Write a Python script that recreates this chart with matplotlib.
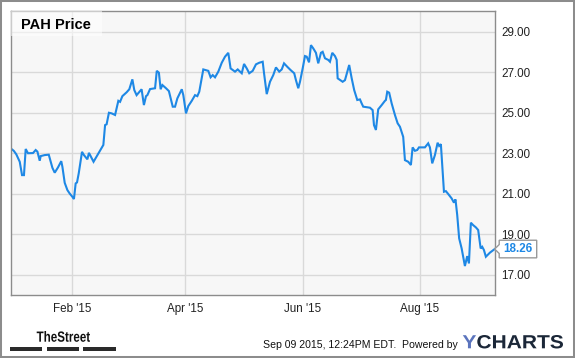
import numpy as np
import pandas as pd
import matplotlib
matplotlib.use("Agg")
import matplotlib.pyplot as plt
import matplotlib.dates as mdates
import matplotlib.transforms as mtransforms
from matplotlib.patches import Rectangle, Polygon, PathPatch
from matplotlib.textpath import TextPath
from matplotlib.font_manager import FontProperties

# ---- data (days after 2015-01-01, price) ----
days = [-0.9, 0.7, 2.0, 3.8, 5.0, 6.0, 6.9, 8.1, 10.7, 12.1, 13.0, 14.2, 14.7, 16.8, 18.9,
        20.8, 22.0, 23.7, 25.4, 26.0, 27.2, 28.6, 29.8, 31.2, 32.0, 32.9, 33.6, 34.5, 36.2,
        37.2, 39.0, 39.8, 41.0, 42.2, 47.3, 48.2, 49.0, 50.2, 51.6, 53.4, 55.1, 56.0, 57.2,
        59.4, 60.8, 62.4, 63.4, 64.6, 67.2, 68.4, 69.5, 70.2, 71.6, 74.2, 75.1, 76.2, 77.1,
        78.0, 79.9, 81.4, 83.4, 84.6, 85.8, 88.1, 88.9, 90.3, 91.5, 93.3, 95.0, 96.2, 97.2,
        99.3, 101.9, 103.1, 104.2, 105.4, 107.1, 108.9, 110.6, 112.3, 113.5, 115.8, 117.2,
        118.4, 119.3, 120.5, 121.9, 123.2, 125.0, 126.7, 128.4, 130.2, 130.9, 132.3, 134.0,
        135.7, 137.1, 138.8, 140.1, 141.3, 143.0, 144.7, 146.6, 147.5, 148.7, 149.6, 151.0,
        152.2, 153.1, 154.3, 155.3, 156.5, 157.9, 159.1, 160.5, 161.4, 162.6, 164.3, 165.2,
        166.4, 167.8, 168.7, 169.2, 171.8, 173.0, 175.2, 176.5, 177.8, 179.4, 180.8, 181.7,
        182.5, 186.0, 187.4, 188.1, 189.1, 190.3, 192.1, 193.8, 194.3, 195.0, 196.0, 197.3,
        199.0, 200.4, 201.6, 203.3, 204.2, 205.9, 207.3, 208.2, 209.4, 210.6, 211.5, 214.6,
        216.3, 217.2, 218.4, 219.8, 221.2, 222.0, 222.9, 224.5, 225.5, 226.7, 228.5, 229.7,
        230.5, 231.4, 232.4, 233.7, 234.5, 235.4, 236.6, 237.5, 238.5, 239.7, 241.1, 242.3,
        243.6, 244.4, 245.3, 246.3, 248.4, 250.9]
prices = [23.23, 23.11, 22.94, 22.57, 21.91, 21.91, 23.20, 22.99, 23.00, 23.15, 23.07, 22.62,
          22.85, 22.90, 22.92, 22.27, 22.03, 22.29, 22.60, 22.32, 21.53, 21.17, 21.00, 20.84,
          20.73, 21.50, 21.55, 22.00, 23.06, 22.90, 22.69, 23.01, 22.79, 22.57, 23.40, 24.38,
          24.42, 24.99, 24.96, 24.88, 25.58, 25.53, 25.81, 26.00, 26.15, 26.64, 26.11, 25.86,
          26.15, 25.37, 25.81, 25.86, 26.16, 26.20, 27.06, 26.97, 26.15, 26.36, 26.20, 26.06,
          25.29, 25.29, 25.70, 26.15, 25.86, 24.96, 25.32, 25.58, 25.86, 25.81, 26.03, 27.13,
          27.06, 26.74, 26.85, 26.74, 27.02, 27.46, 27.76, 27.95, 27.18, 27.02, 27.13, 27.02,
          26.94, 27.40, 27.18, 26.94, 27.06, 27.38, 27.46, 27.51, 26.94, 25.91, 26.52, 26.85,
          27.23, 27.02, 27.13, 27.43, 27.26, 27.10, 26.94, 26.60, 26.20, 26.52, 27.18, 27.79,
          27.76, 27.48, 28.33, 28.17, 27.95, 27.43, 27.95, 28.00, 27.68, 27.60, 27.51, 27.95,
          27.79, 27.60, 26.69, 26.52, 26.60, 27.35, 26.69, 26.11, 25.62, 25.65, 25.45, 25.29,
          25.24, 25.12, 24.38, 24.14, 25.16, 25.37, 25.58, 25.62, 26.03, 25.98, 25.45, 24.88,
          24.47, 24.30, 23.80, 22.65, 22.57, 22.41, 23.28, 23.11, 23.15, 23.28, 23.28, 23.48,
          23.28, 22.49, 22.90, 23.51, 23.35, 23.44, 21.09, 21.12, 20.98, 20.76, 20.55, 20.71,
          19.94, 18.79, 18.29, 17.88, 17.42, 17.91, 17.55, 19.56, 19.44, 19.33, 19.20, 18.29,
          18.37, 18.21, 17.88, 18.08, 18.26]
x_tick_dates = ["2015-02-01", "2015-04-01", "2015-06-01", "2015-08-01"]
x_tick_labels = ["Feb '15", "Apr '15", "Jun '15", "Aug '15"]
y_ticks = [17, 19, 21, 23, 25, 27, 29]
title = "PAH Price"
last_label = "18.26"
footer = "Sep 09 2015, 12:24PM EDT.  Powered by"

# ---- figure ----
W, H = 575, 358
fig = plt.figure(figsize=(W / 100, H / 100), dpi=100)
fig.patch.set_facecolor("white")
L, R, T, B = 10.7, 494.7, 10.7, 295.0
ax = fig.add_axes([L / W, 1 - B / H, (R - L) / W, (B - T) / H])
ax.set_facecolor("#f7f7f7")

base = pd.Timestamp("2015-01-01")
dates = base + pd.to_timedelta(days, unit="D")
line_color = "#1e88e5"
ax.plot(dates, prices, color=line_color, lw=1.5, solid_joinstyle="miter")

ax.set_xlim(base + pd.Timedelta(days=-0.9), base + pd.Timedelta(days=250.9))
ax.set_ylim(15.99, 30.03)

ax.set_xticks(pd.to_datetime(x_tick_dates))
ax.set_xticklabels(x_tick_labels)
ax.set_yticks(y_ticks)
ax.set_yticklabels([f"{v:.2f}" for v in y_ticks])
ax.yaxis.tick_right()
ax.grid(True, color="#d9d9d9", lw=1)
ax.set_axisbelow(True)
for s in ax.spines.values():
    s.set_color("#8c8c8c")
    s.set_linewidth(1)
ax.tick_params(axis="both", length=0, labelsize=8.4, colors="#222222")
ax.tick_params(axis="y", pad=5)
ax.tick_params(axis="x", pad=6)
for lab in ax.get_xticklabels() + ax.get_yticklabels():
    lab.set_fontfamily("Liberation Sans")

# title box
bw = (101.7 - L) / (R - L)
bh = (36.0 - T) / (B - T)
ax.add_patch(Rectangle((0, 1 - bh), bw, bh, transform=ax.transAxes,
                       facecolor="white", alpha=0.55, edgecolor="none", zorder=3))
ax.text((20.7 - L) / (R - L), 1 - (29.3 - T) / (B - T), title, transform=ax.transAxes,
        fontsize=10.5, fontweight="bold", family="Liberation Sans", va="baseline",
        ha="left", color="black", zorder=4)

# last value callout
lx, ly = dates[-1], prices[-1]
off = fig.dpi_scale_trans + mtransforms.ScaledTranslation(
    mdates.date2num(lx), ly, ax.transData)
px = lambda p: (p[0] / 100, p[1] / 100)
pts = [px(p) for p in [(0, 0), (4.5, 4.5), (4.5, 8.8), (42, 8.8), (42, -8.8),
                       (4.5, -8.8), (4.5, -4.5)]]
poly = Polygon(pts, closed=True, facecolor="white", edgecolor="#999999", lw=1,
               transform=off, clip_on=False, zorder=5)
fig.add_artist(poly)
fig.text(23.3 / 100, 0, last_label, transform=off, fontsize=8.4, fontweight="bold",
         color=line_color, family="Liberation Sans", ha="center", va="center", zorder=6)


def fitted_text(s, x0, x1, top, baseline, color, ref=None, shift_src=None):
    """Draw text as a path fitted into the pixel box (x0..x1, top..baseline)."""
    fp = FontProperties(family="Liberation Sans", weight="bold")
    full = TextPath((0, 0), ref if ref else s, size=100, prop=fp)
    ext = full.get_extents()
    sx = (x1 - x0) / (ext.x1 - ext.x0)
    sy = (baseline - top) / ext.y1
    part = TextPath((0, 0), s, size=100, prop=fp)
    dx = 0.0
    if shift_src is not None:
        dx = ext.x1 - part.get_extents().x1
    tr = (mtransforms.Affine2D().translate(dx - ext.x0, 0).scale(sx, sy)
          .translate(x0, H - baseline))
    fig.add_artist(PathPatch(part, transform=tr + mtransforms.IdentityTransform(),
                             facecolor=color, edgecolor="none", lw=0))


# footer: TheStreet logo
fitted_text("TheStreet", 36.7, 90.0, 331.0, 341.7, "#111111")
for x0, x1 in [(10, 42.3), (46.7, 79), (83.3, 115.7)]:
    fig.add_artist(Rectangle((x0 / W, 1 - 350.7 / H), (x1 - x0) / W, 3.4 / H,
                             transform=fig.transFigure, facecolor="#2a2a2a",
                             edgecolor="none"))

fig.text(263.3 / W, 1 - 348.3 / H, footer, fontsize=7.6, family="Liberation Sans",
         ha="left", va="baseline", color="#111111")
fitted_text("Y", 462.8, 563.0, 335.0, 348.3, "#5b74bd", ref="YCHARTS")
fitted_text("CHARTS", 462.8, 563.0, 335.0, 348.3, "#1b2738", ref="YCHARTS", shift_src=True)

# outer border
fig.add_artist(Rectangle((0, 0), 1, 1, transform=fig.transFigure, fill=False,
                         edgecolor="#8c8c8c", lw=2.9))

fig.savefig("out.png", dpi=100, facecolor="white")
